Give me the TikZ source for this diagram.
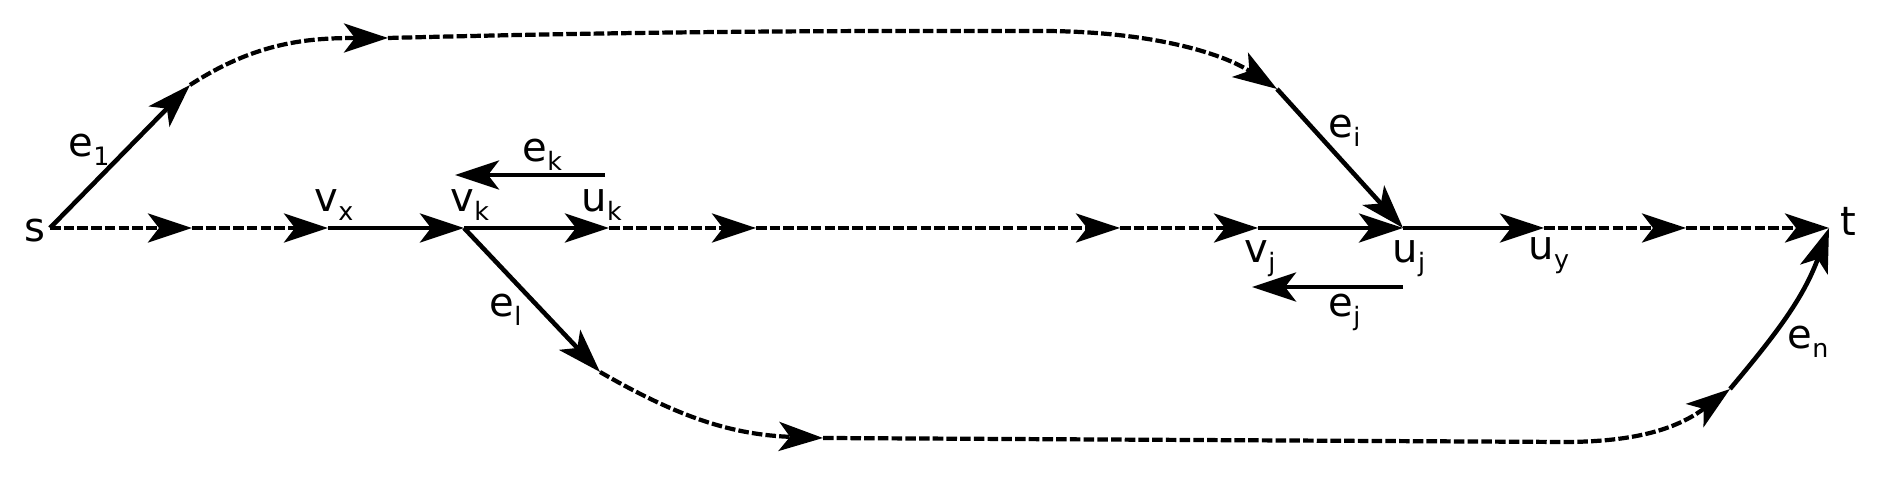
\documentclass[tikz,border=0pt]{standalone}
\usepackage{fontspec}
\setmainfont{DejaVu Sans}
\usepackage{tikz}
\usetikzlibrary{arrows.meta}

\newcommand{\sbs}[2]{#1\raisebox{-2.4pt}{\fontsize{7.2}{8}\selectfont #2}}

\begin{document}
\begin{tikzpicture}[x=0.01cm, y=0.01cm,
  solidarc/.style={line width=1.3pt, -{Stealth[length=4.4mm, width=2.9mm, inset=1.1mm]}},
  dasharc/.style={solidarc, line width=1.2pt, dash pattern=on 3pt off 0.9pt},
  lbl/.style={inner sep=0pt, anchor=base west, font=\fontsize{11.4}{13}\selectfont}]
\useasboundingbox (0,0) rectangle (1877,480);
%
\coordinate (s) at (50,252);
\coordinate (a1) at (192,252);
\coordinate (vx) at (328,252);
\coordinate (vk) at (464,252);
\coordinate (uk) at (609,252);
\coordinate (a4) at (756,252);
\coordinate (a5) at (1120,252);
\coordinate (vj) at (1258,252);
\coordinate (uj) at (1403,252);
\coordinate (uy) at (1544,252);
\coordinate (a9) at (1686,252);
\coordinate (t) at (1829,252);
%
\coordinate (p1) at (190,395);
\coordinate (p2) at (388,442);
\coordinate (ptop) at (1040,449);
\coordinate (p3) at (1277,391);
\coordinate (q1) at (600,108);
\coordinate (q2) at (823,42);
\coordinate (qbot) at (1563,38);
\coordinate (q3) at (1730,91);
%
\coordinate (ek1) at (605,305);
\coordinate (ek2) at (455,305);
\coordinate (ej1) at (1403,193);
\coordinate (ej2) at (1252,193);
%
\draw[dasharc] (s) -- (a1);
\draw[dasharc] (a1) -- (vx);
\draw[solidarc] (vx) -- (vk);
\draw[solidarc] (vk) -- (uk);
\draw[dasharc] (uk) -- (a4);
\draw[dasharc] (a4) -- (a5);
\draw[dasharc] (a5) -- (vj);
\draw[solidarc] (vj) -- (uj);
\draw[solidarc] (uj) -- (uy);
\draw[dasharc] (uy) -- (a9);
\draw[dasharc] (a9) -- (t);
%
\draw[solidarc] (s) -- (p1);
\draw[dasharc] (p1) to[out=33, in=180] (p2);
\draw[dasharc] (p2) .. controls (700,450) and (900,449) .. (ptop)
  .. controls (1150,449) and (1222,427) .. (p3);
\draw[solidarc] (p3) -- (uj);
%
\draw[solidarc] (vk) -- (q1);
\draw[dasharc] (q1) to[out=-30, in=178] (q2);
\draw[dasharc] (q2) -- (qbot) to[out=0, in=217] (q3);
\draw[solidarc] (q3) to[out=50, in=250] (t);
%
\draw[solidarc] (ek1) -- (ek2);
\draw[solidarc] (ej1) -- (ej2);
%
\node[lbl] (l-s) at (24,238) {s};
\node[lbl] (l-t) at (1840,244) {t};
\node[lbl] (l-e1) at (68,323) {\sbs{e}{1}};
\node[lbl] (l-vx) at (314,268) {\sbs{v}{x}};
\node[lbl] (l-vk) at (450,268) {\sbs{v}{k}};
\node[lbl] (l-uk) at (581,268) {\sbs{u}{k}};
\node[lbl] (l-ek) at (522,318) {\sbs{e}{k}};
\node[lbl] (l-el) at (489,163) {\sbs{e}{l}};
\node[lbl] (l-ei) at (1328,342) {\sbs{e}{i}};
\node[lbl] (l-vj) at (1244,217) {\sbs{v}{j}};
\node[lbl] (l-uj) at (1392,217) {\sbs{u}{j}};
\node[lbl] (l-ej) at (1328,163) {\sbs{e}{j}};
\node[lbl] (l-uy) at (1528,220) {\sbs{u}{y}};
\node[lbl] (l-en) at (1787,131) {\sbs{e}{n}};
\end{tikzpicture}
\end{document}
